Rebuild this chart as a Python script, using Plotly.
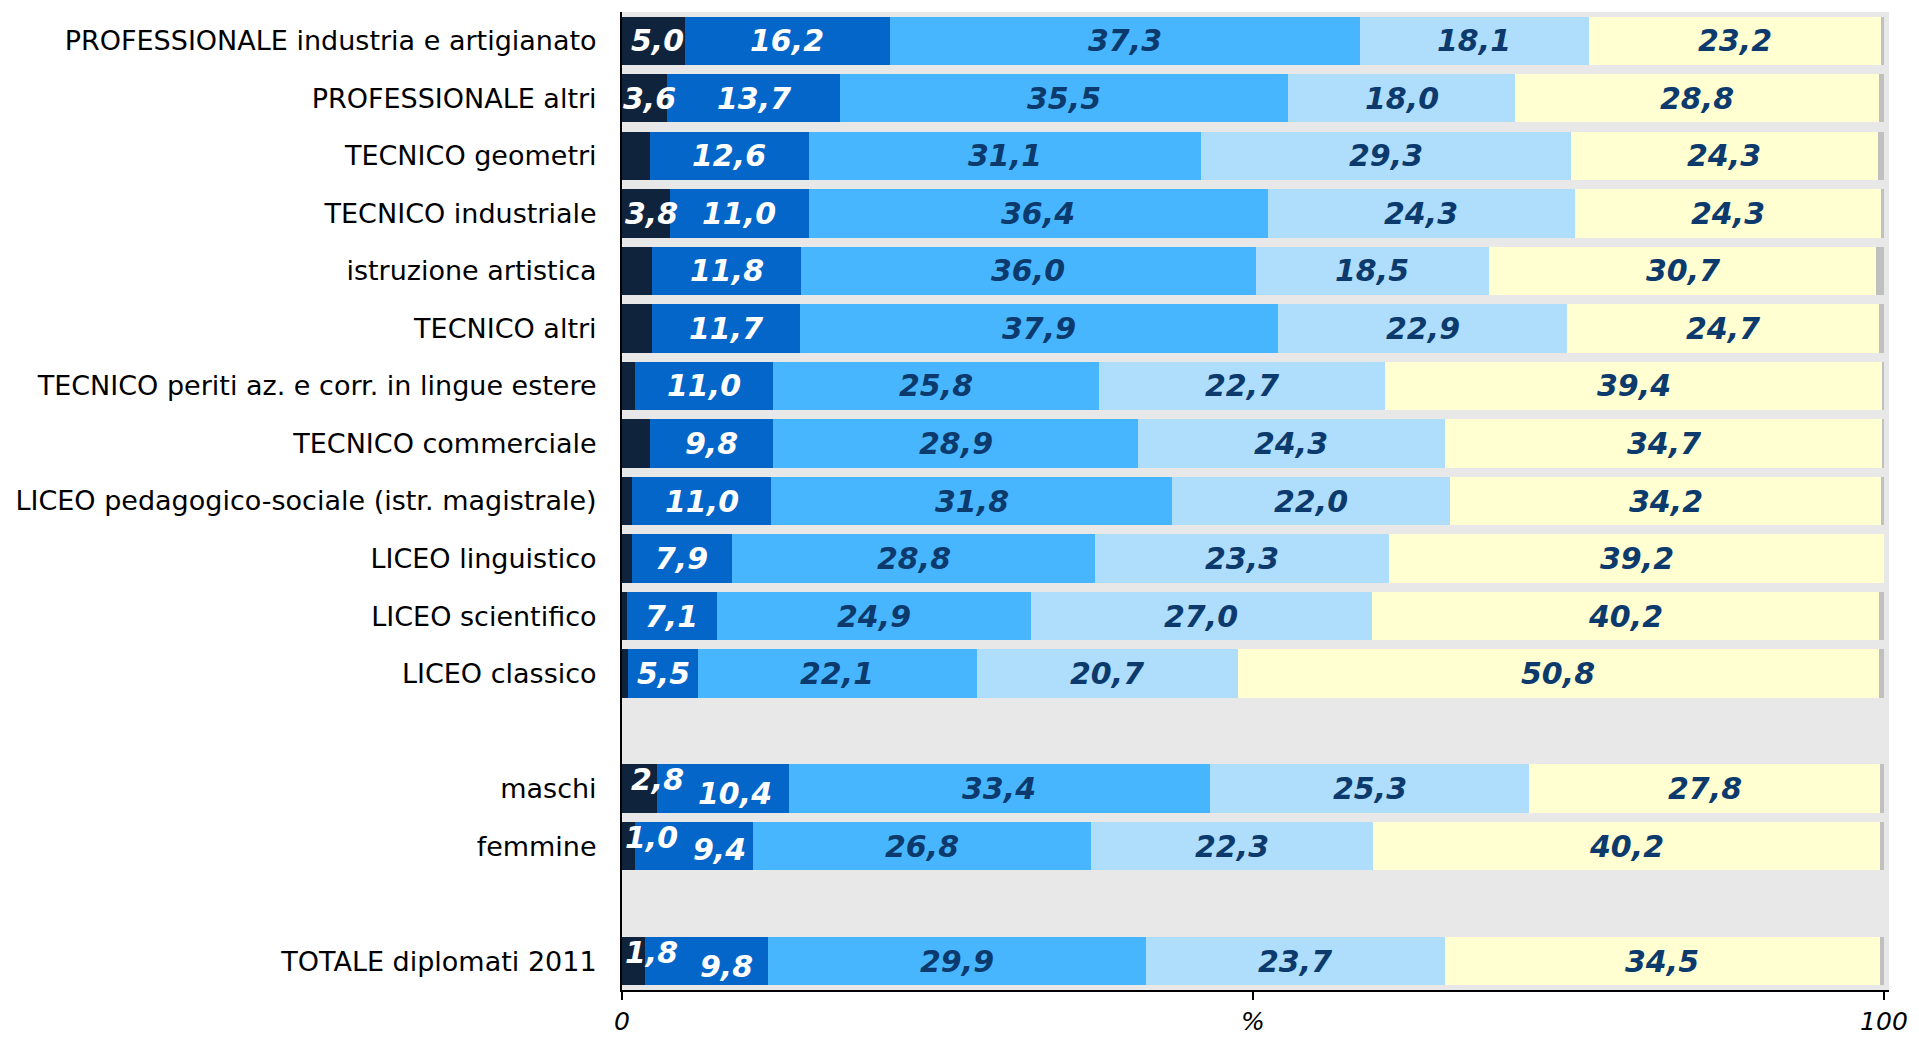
import plotly.graph_objects as go

# categories top -> bottom ("" entries are the empty spacer rows)
categories = [
    "PROFESSIONALE industria e artigianato",
    "PROFESSIONALE altri",
    "TECNICO geometri",
    "TECNICO industriale",
    "istruzione artistica",
    "TECNICO altri",
    "TECNICO periti az. e corr. in lingue estere",
    "TECNICO commerciale",
    "LICEO pedagogico-sociale (istr. magistrale)",
    "LICEO linguistico",
    "LICEO scientifico",
    "LICEO classico",
    " ",
    "maschi",
    "femmine",
    "  ",
    "TOTALE diplomati 2011",
]

# series values (None on the spacer rows)
s1 = [5.0, 3.6, 2.2, 3.8, 2.4, 2.4, 1.0, 2.2, 0.8, 0.8, 0.4, 0.5, None, 2.8, 1.0, None, 1.8]
s2 = [16.2, 13.7, 12.6, 11.0, 11.8, 11.7, 11.0, 9.8, 11.0, 7.9, 7.1, 5.5, None, 10.4, 9.4, None, 9.8]
s3 = [37.3, 35.5, 31.1, 36.4, 36.0, 37.9, 25.8, 28.9, 31.8, 28.8, 24.9, 22.1, None, 33.4, 26.8, None, 29.9]
s4 = [18.1, 18.0, 29.3, 24.3, 18.5, 22.9, 22.7, 24.3, 22.0, 23.3, 27.0, 20.7, None, 25.3, 22.3, None, 23.7]
s5 = [23.2, 28.8, 24.3, 24.3, 30.7, 24.7, 39.4, 34.7, 34.2, 39.2, 40.2, 50.8, None, 27.8, 40.2, None, 34.5]
s6 = [0.2, 0.4, 0.5, 0.2, 0.6, 0.4, 0.1, 0.1, 0.2, 0.0, 0.4, 0.4, None, 0.3, 0.3, None, 0.3]

# first segment is labelled only on these rows
s1_labelled = ["PROFESSIONALE industria e artigianato", "PROFESSIONALE altri",
               "TECNICO industriale", "maschi", "femmine", "TOTALE diplomati 2011"]

tick_vals = [0, 50, 100]
tick_text = ["0", "%", "100"]

series = [s1, s2, s3, s4, s5, s6]
colors = ["#10233D", "#0466C9", "#47B6FF", "#AEDEFC", "#FFFFD1", "#C0C0C0"]
label_colors = ["white", "white", "#0C3A6C", "#0C3A6C", "#0C3A6C", None]

fig = go.Figure()
for vals, col in zip(series, colors):
    fig.add_trace(go.Bar(
        y=categories, x=vals, orientation="h",
        marker=dict(color=col, line=dict(width=0)),
        hoverinfo="x+y",
    ))

# value labels, centred in each segment (a few nudged like the original)
nudge = {
    ("maschi", 0): (18, 9), ("maschi", 1): (12, -5),
    ("femmine", 0): (23, 9), ("femmine", 1): (26, -3),
    ("TOTALE diplomati 2011", 0): (18, 9), ("TOTALE diplomati 2011", 1): (20, -5),
    ("PROFESSIONALE industria e artigianato", 0): (4, 0),
    ("PROFESSIONALE altri", 0): (5, 0),
    ("TECNICO industriale", 0): (6, 0),
}
annotations = []
for r, cat in enumerate(categories):
    if s1[r] is None:
        continue
    start = 0.0
    for k, vals in enumerate(series):
        v = vals[r]
        if label_colors[k] is not None and not (k == 0 and cat not in s1_labelled):
            dx, dy = nudge.get((cat, k), (0, 0))
            annotations.append(dict(
                x=start + v / 2, y=cat, xref="x", yref="y",
                text=f"<b><i>{v:.1f}</i></b>".replace(".", ","),
                showarrow=False, xshift=dx, yshift=dy,
                font=dict(family="DejaVu Sans", size=30, color=label_colors[k]),
            ))
        start += v

fig.update_layout(
    barmode="stack",
    bargap=0.16,
    width=1919, height=1037,
    margin=dict(l=622, r=30, t=12, b=47),
    plot_bgcolor="#E8E8E8",
    paper_bgcolor="white",
    showlegend=False,
    annotations=annotations,
    font=dict(family="DejaVu Sans", color="black"),
)
fig.update_yaxes(
    categoryorder="array", categoryarray=categories[::-1],
    showline=True, linecolor="black", linewidth=2,
    ticks="", ticklabelstandoff=18,
    tickfont=dict(size=27, color="black"),
    showgrid=False, automargin=False,
)
fig.update_xaxes(
    range=[0, 100.4],
    tickvals=tick_vals, ticktext=tick_text,
    showline=True, linecolor="black", linewidth=2,
    ticks="outside", ticklen=8, tickwidth=2, tickcolor="black",
    ticklabelstandoff=0,
    tickfont=dict(size=25, color="black", style="italic"),
    showgrid=False, zeroline=False, automargin=False,
)

fig.write_html("out.html", config={"displayModeBar": False},
               post_script="document.body.style.margin='0';document.body.style.overflow='hidden';")
